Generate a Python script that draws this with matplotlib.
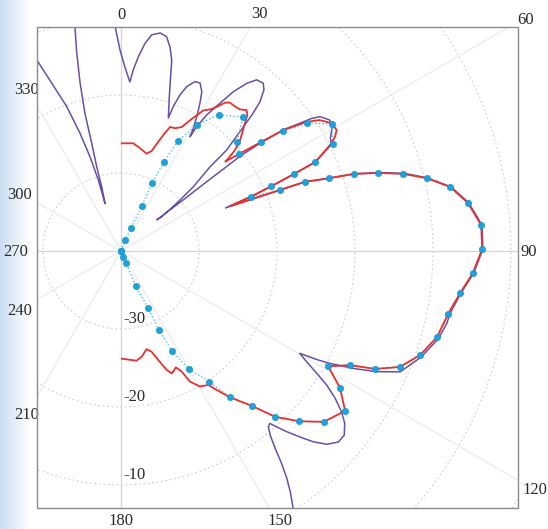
import numpy as np
import matplotlib
matplotlib.use("Agg")
import matplotlib.pyplot as plt
import matplotlib.patches as mpatches
from matplotlib.colors import LinearSegmentedColormap

# ── Pattern data (angle in degrees clockwise from broadside, gain in dB) ─────
meas_deg = [0, 20.0, 23.5, 25.0, 24.5, 25.8, 27.4, 31.0, 35.6, 42.3, 46.8, 50.6,
            52.1, 53.5, 55.5, 58.9, 63.2, 65.4, 66.0, 66.7, 67.3, 69.0, 69.4,
            70.7, 71.7, 73.1, 74.7, 76.6, 79.0, 82.1, 85.9, 89.7, 93.6, 97.1,
            100.9, 105.2, 109.2, 112.6, 114.9, 116.5, 119.1, 122.0, 125.5,
            130.1, 133.7, 137.1, 139.8, 143.3, 146.0, 150.0, 153.0, 154.3,
            154.6, 157.0, 157.0, 161.6, 180]
meas_db = [-40, -38.5, -36.8, -33.6, -30.4, -27.3, -24.1, -21.2, -18.5, -16.8,
           -19.6, -20.4, -17.3, -14.2, -11.1, -8.4, -9.6, -12.6, -15.7, -19.0,
           -22.0, -18.2, -14.8, -11.8, -8.5, -5.6, -2.5, 0.3, 3.0, 4.9, 6.3,
           6.3, 5.2, 3.8, 2.7, 2.0, 0.6, -1.3, -4.1, -7.2, -9.6, -6.9, -4.7,
           -6.0, -8.4, -11.0, -14.0, -16.7, -19.8, -22.5, -25.6, -28.8, -31.9,
           -35.1, -38.3, -39.2, -40]

fit_deg = [0.4, 6.5, 10.5, 14.7, 17.0, 18.5, 20.0, 21.6, 23.8, 26.1, 27.5, 29.1,
           30.4, 32.6, 33.9, 35.0, 36.2, 38.2, 40.0, 41.7, 42.9, 44.7, 47.0,
           48.5, 49.2, 49.4, 50.6, 52.1, 53.3, 55.2, 56.6, 58.8, 60.7, 61.9,
           62.9, 65.4, 66.0, 66.7, 67.3, 67.6, 69.0, 69.4, 70.7, 71.7, 73.1,
           74.7, 76.6, 79.0, 82.1, 85.9, 89.7, 93.6, 97.1, 100.9, 105.2, 109.2,
           112.6, 114.9, 116.5, 119.1, 122.0, 125.5, 130.1, 133.7, 137.1,
           139.8, 143.3, 145.5, 146.9, 149.8, 152.2, 153.3, 154.7, 157.5,
           159.0, 161.1, 163.1, 165.4, 168.9, 171.9, 175.3, 179.6]
fit_db = [-26.2, -26.1, -26.6, -27.1, -26.6, -25.5, -24.2, -22.9, -22.8, -22.3,
          -21.3, -20.1, -19.1, -18.4, -17.6, -16.8, -16.4, -16.4, -16.3, -15.8,
          -16.2, -17.6, -19.1, -20.5, -21.8, -22.4, -20.4, -17.3, -14.0, -11.0,
          -9.5, -8.4, -8.3, -8.9, -9.7, -12.6, -15.7, -19.0, -22.0, -24.9,
          -18.2, -14.8, -11.8, -8.5, -5.6, -2.5, 0.3, 3.0, 4.9, 6.3, 6.3, 5.2,
          3.8, 2.7, 2.0, 0.6, -1.3, -4.1, -7.2, -9.6, -6.9, -4.7, -6.0, -8.4,
          -11.0, -14.0, -16.6, -18.4, -19.5, -19.9, -21.1, -22.7, -23.5, -23.0,
          -23.7, -25.2, -26.5, -27.0, -26.2, -25.8, -26.0, -26.2]

# simulated pattern; nan marks the stretch that runs outside the frame
sim_deg = [-24.5, -23.8, -22.6, -20.6, -19.2, -18.2, -17.7, -18.6, -16.7, -16.1,
           -15.2, -14.7, -13.7, -12.6, -11.6, -11.0,
           np.nan,
           -2.0, -1.5, -0.3, 1.2, 3.0, 3.9, 5.1, 6.6, 8.1, 10.2, 12.0, 13.5,
           14.9, 15.9, 17.4, 19.6, 19.9, 20.7, 21.8, 23.6, 25.2, 26.9, 28.1,
           29.4, 30.7, 31.1, 31.3, 32.2, 33.8, 35.2, 36.9, 38.4, 40.3, 41.6,
           43.0, 43.9, 44.9, 46.3, 46.6, 48.4, 49.4, 49.9, 49.0, 50.6, 51.0,
           51.3, 51.5, 52.3, 53.3, 55.2, 56.0, 57.9, 59.8, 61.7, 63.2, 65.4,
           66.0, 66.7, 67.3, 67.6, 69.0, 69.4, 70.7, 71.7, 73.1, 74.7, 76.6,
           79.0, 82.1, 85.9, 89.7, 93.6, 97.1, 100.9, 102.5, 105.5, 109.5,
           113.4, 115.3, 116.8, 118.3, 119.0, 119.8, 120.6, 122.0, 123.1,
           124.5, 126.1, 127.6, 129.5, 131.3, 133.2, 134.8, 136.1, 137.5,
           138.5, 139.2, 140.0, 141.0, 142.0, 142.9, 143.9, 145.0, 146.1, 146.8]
sim_db = [-12.5, -13.2, -16.3, -20.2, -24.0, -27.3, -30.5, -33.6, -31.4, -28.8,
          -25.7, -21.8, -17.9, -14.0, -10.6, -9.5,
          np.nan,
          -10.0, -11.2, -14.2, -16.4, -18.3, -16.7, -15.0, -13.2, -12.0, -11.6,
          -11.9, -13.1, -14.7, -16.8, -19.3, -21.9, -20.3, -18.6, -17.3, -16.3,
          -16.2, -17.1, -18.5, -20.2, -22.0, -22.9, -21.4, -19.4, -17.2, -15.0,
          -13.1, -12.0, -11.8, -12.4, -13.9, -15.8, -18.4, -21.3, -24.3, -27.6,
          -30.6, -33.2, -33.9, -29.7, -26.2, -23.4, -20.3, -17.2, -14.0, -10.2,
          -9.2, -8.4, -8.7, -9.5, -9.8, -12.6, -15.7, -19.0, -22.0, -25.5,
          -18.2, -14.8, -11.8, -8.5, -5.4, -2.3, 0.4, 3.1, 5.0, 6.4, 6.4, 5.3,
          3.9, 2.9, 2.8, 2.2, 0.8, -1.0, -3.8, -6.6, -9.6, -11.3, -13.6, -12.6,
          -10.4, -8.5, -6.7, -5.0, -3.8, -2.9, -2.9, -3.8, -5.3, -6.9, -8.6,
          -9.9, -10.8, -10.6, -9.6, -7.9, -5.9, -3.9, -2.1, -0.5, 0.6]

ring_db = [-30, -20, -10, 0, 10, 20]
ring_labels = ["-30", "-20", "-10"]
spoke_deg = np.arange(0, 360, 30)

# ── Layout (pixels) ──────────────────────────────────────────────────────────
W, H = 548, 529
CX, CY = 121, 251            # pole position, from top-left
PX_PER_DB = 7.8
R_MIN, R_MAX = -40, 22
BOX = (37, 27, 518, 508)     # left, top, right, bottom

# angle labels sit just outside the frame
angle_label_pos = {0: (121, 15), 30: (259, 14), 60: (526, 20), 90: (529, 252),
                   120: (535, 490), 150: (280, 521), 180: (121, 521),
                   210: (27, 415), 240: (20, 311), 270: (16, 252),
                   300: (20, 195), 330: (27, 90)}

C_SIM = "#6a50a4"
C_FIT = "#e8302e"
C_MEAS_LINE = "#45c6de"
C_MEAS_DOT = "#1ea2de"
C_TEXT = "#2a2a2a"
SERIF = "Liberation Serif"

fig = plt.figure(figsize=(W / 100, H / 100), dpi=100)
fig.patch.set_facecolor("white")

# soft blue band along the left edge
band = fig.add_axes([0, 0, 30 / W, 1])
band_cmap = LinearSegmentedColormap.from_list("band", ["#c9ddf1", "#e4eef9", "#ffffff"])
band.imshow(np.linspace(0, 1, 64)[None, :], aspect="auto", cmap=band_cmap,
            extent=(0, 1, 0, 1))
band.set_axis_off()

rad_px = (R_MAX - R_MIN) * PX_PER_DB
ax = fig.add_axes([(CX - rad_px) / W, (H - CY - rad_px) / H,
                   2 * rad_px / W, 2 * rad_px / H], projection="polar")
ax.set_theta_zero_location("N")
ax.set_theta_direction(-1)
ax.set_rlim(R_MIN, R_MAX)
ax.set_axis_off()

frame = mpatches.Rectangle((BOX[0] / W, 1 - BOX[3] / H),
                           (BOX[2] - BOX[0]) / W, (BOX[3] - BOX[1]) / H,
                           transform=fig.transFigure, fill=False,
                           edgecolor="#8c8c8c", linewidth=1.0, zorder=10)
fig.add_artist(frame)


def clipped(lines):
    for ln in lines:
        ln.set_clip_path(frame)
    return lines


# ── Grid ─────────────────────────────────────────────────────────────────────
full = np.linspace(0, 2 * np.pi, 721)
for v in ring_db:
    clipped(ax.plot(full, np.full_like(full, v), color="#cdcdcd", lw=0.8,
                    linestyle=(0, (1.5, 2.5)), zorder=1))
for a in spoke_deg:
    main = a % 90 == 0
    clipped(ax.plot(np.deg2rad([a, a]), [R_MIN, R_MAX],
                    color="#d4d4d4" if main else "#ececec",
                    lw=0.9, zorder=1))

# ── Curves ───────────────────────────────────────────────────────────────────
clipped(ax.plot(np.deg2rad(sim_deg), sim_db, color=C_SIM, lw=1.1, zorder=2))
clipped(ax.plot(np.deg2rad(meas_deg), meas_db, color=C_MEAS_LINE, lw=1.0,
                linestyle=(0, (1, 1.6)), zorder=3))
clipped(ax.plot(np.deg2rad(fit_deg), fit_db, color=C_FIT, lw=1.3, zorder=4))
clipped(ax.plot(np.deg2rad(meas_deg), meas_db, linestyle="none", marker="o",
                markersize=4.6, markerfacecolor=C_MEAS_DOT,
                markeredgecolor="#1790c4", markeredgewidth=0.4, zorder=5))

# ── Labels ───────────────────────────────────────────────────────────────────
for v, s in zip(ring_db, ring_labels):
    ax.annotate(s, xy=(np.pi, v), xytext=(2, 10), textcoords="offset pixels",
                ha="left", va="center", fontsize=12, family=SERIF,
                color=C_TEXT, zorder=6)

for a in spoke_deg:
    x, y = angle_label_pos[int(a)]
    fig.text(x / W, 1 - y / H, str(a), ha="center", va="center",
             fontsize=12, family=SERIF, color=C_TEXT)

fig.savefig("out.png", dpi=100, facecolor="white")
